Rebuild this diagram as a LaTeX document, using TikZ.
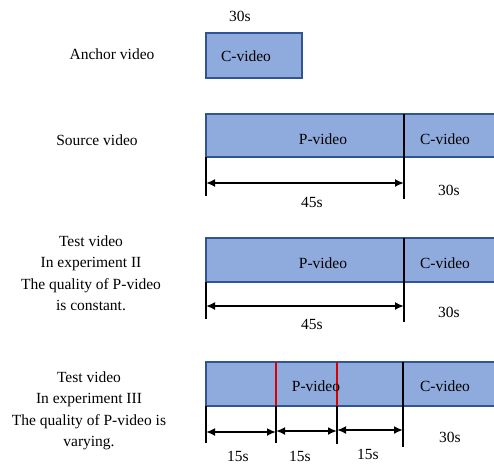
\documentclass[tikz,border=0pt]{standalone}
\usepackage{fontspec}
\setmainfont{Liberation Serif}
\usetikzlibrary{arrows.meta,calc}
\definecolor{boxfill}{HTML}{8FAADC}
\definecolor{boxline}{HTML}{2F5597}

\begin{document}
\begin{tikzpicture}[x=1pt,y=-1pt,
    font=\fontsize{15.5}{21.5}\selectfont,
    seg/.style={draw=boxline, fill=boxfill, line width=1.2pt},
    divide/.style={line width=1.2pt},
    redline/.style={red!85!black, line width=1.4pt},
    edgeline/.style={line width=1.3pt},
    dim/.style={{Latex[length=9pt,width=8pt]}-{Latex[length=9pt,width=8pt]}, line width=2.4pt},
    lbl/.style={align=center, inner sep=0pt}]
    \useasboundingbox (0,0) rectangle (494,466);
    \clip (0,0) rectangle (494,466);

    % Anchor video
    \node[lbl] (anchorlbl) at (112,54) {Anchor video};
    \filldraw[seg] (206,33) rectangle (302,78);
    \node (anchorc) at (246,56) {C-video};
    \node (anchort) at (240,16) {30s};

    % Source video
    \node[lbl] (sourcelbl) at (97,140) {Source video};
    \filldraw[seg] (206,114) rectangle (500,157);
    \draw[divide] (404,114) -- (404,157);
    \node (sourcep) at (323,139) {P-video};
    \node (sourcec) at (445,139) {C-video};
    \coordinate (s0) at (206,157);
    \coordinate (s1) at (404,157);
    \draw[edgeline] (s0) -- ++(0,39);
    \draw[edgeline] (s1) -- ++(0,42);
    \draw[dim] ($(s0)+(0,26)$) -- ($(s1)+(0,26)$);
    \node (sourced) at (312,202) {45s};
    \node (sourcet) at (449,190) {30s};

    % Test video, experiment II
    \node[lbl] (twolbl) at (91,273) {Test video\\In experiment II\\The quality of P-video\\is constant.};
    \filldraw[seg] (206,238) rectangle (500,282);
    \draw[divide] (404,238) -- (404,282);
    \node (twop) at (323,263) {P-video};
    \node (twoc) at (445,263) {C-video};
    \coordinate (t0) at (206,282);
    \coordinate (t1) at (404,282);
    \draw[edgeline] (t0) -- ++(0,37);
    \draw[edgeline] (t1) -- ++(0,40);
    \draw[dim] ($(t0)+(0,24)$) -- ($(t1)+(0,24)$);
    \node (twod) at (312,324) {45s};
    \node (twot) at (449,312) {30s};

    % Test video, experiment III
    \node[lbl] (threelbl) at (89,411) {Test video\\In experiment III\\The quality of P-video is\\varying.};
    \filldraw[seg] (206,362) rectangle (500,406);
    \draw[divide] (403,362) -- (403,406);
    \draw[redline] (276,362) -- (276,406);
    \draw[redline] (337,362) -- (337,406);
    \node (threep) at (316,386) {P-video};
    \node (threec) at (445,386) {C-video};
    \coordinate (u0) at (206,406);
    \coordinate (u1) at (276,406);
    \coordinate (u2) at (337,406);
    \coordinate (u3) at (403,406);
    \draw[edgeline] (u0) -- ++(0,37);
    \draw[edgeline] (u1) -- ++(0,37);
    \draw[edgeline] (u2) -- ++(0,38);
    \draw[edgeline] (u3) -- ++(0,41);
    \draw[dim] ($(u0)+(0,26)$) -- ($(u1)+(0,26)$);
    \draw[dim] ($(u1)+(0,25)$) -- ($(u2)+(0,25)$);
    \draw[dim] ($(u2)+(0,24)$) -- ($(u3)+(0,24)$);
    \node (threed1) at (238,456) {15s};
    \node (threed2) at (300,456) {15s};
    \node (threed3) at (368,454) {15s};
    \node (threet) at (450,437) {30s};
\end{tikzpicture}
\end{document}
